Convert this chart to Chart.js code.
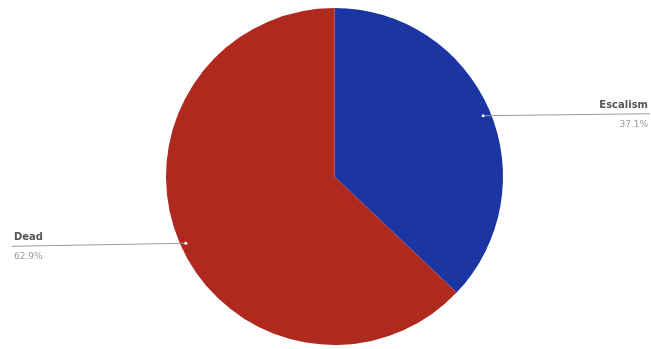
<!DOCTYPE html>
<html>
<head>
<meta charset="utf-8">
<script src="https://cdn.jsdelivr.net/npm/chart.js@4"></script>
<style>
html,body{margin:0;padding:0;background:#fff;}
#wrap{width:651px;height:349px;position:relative;}
</style>
</head>
<body>
<div id="wrap"><canvas id="c"></canvas></div>
<script>
const categories = ['Escalism', 'Dead'];
const values = [37.1, 62.9];
const valueLabels = ['37.1%', '62.9%'];
const colors = ['#1b36a3', '#b0291f'];

const leaderPlugin = {
  id: 'leaders',
  afterDatasetsDraw(chart) {
    const ctx = chart.ctx;
    const meta = chart.getDatasetMeta(0);
    const W = chart.width;
    meta.data.forEach((arc, i) => {
      const p = arc.getProps(['x','y','startAngle','endAngle','outerRadius'], true);
      const mid = (p.startAngle + p.endAngle) / 2;
      const r = p.outerRadius * 0.96;
      const px = p.x + Math.cos(mid) * r;
      const py = p.y + Math.sin(mid) * r + 3;
      const right = Math.cos(mid) >= 0;
      const ex = right ? W - 1 : 12;
      const ey = right ? py - 2 : py + 3;
      ctx.save();
      ctx.strokeStyle = '#9a9a9a';
      ctx.lineWidth = 1;
      ctx.beginPath();
      ctx.moveTo(px, py);
      ctx.lineTo(ex, ey);
      ctx.stroke();
      ctx.fillStyle = '#ffffff';
      ctx.beginPath();
      ctx.arc(px, py, 1.5, 0, Math.PI * 2);
      ctx.fill();
      ctx.textAlign = right ? 'right' : 'left';
      ctx.textBaseline = 'alphabetic';
      const tx = right ? W - 3 : 14;
      ctx.fillStyle = '#555555';
      ctx.font = 'bold 10px "DejaVu Sans", sans-serif';
      ctx.fillText(categories[i], tx, ey - 6);
      ctx.fillStyle = '#999999';
      ctx.font = '9px "DejaVu Sans", sans-serif';
      ctx.fillText(valueLabels[i], tx, ey + 13);
      ctx.restore();
    });
  }
};

new Chart(document.getElementById('c'), {
  type: 'pie',
  data: {
    labels: categories,
    datasets: [{
      data: values,
      backgroundColor: colors,
      borderWidth: 0
    }]
  },
  options: {
    responsive: true,
    maintainAspectRatio: false,
    animation: false,
    layout: { padding: { top: 8, bottom: 4, left: 18, right: 0 } },
    plugins: {
      legend: { display: false },
      tooltip: { enabled: false }
    }
  },
  plugins: [leaderPlugin]
});
</script>
</body>
</html>
